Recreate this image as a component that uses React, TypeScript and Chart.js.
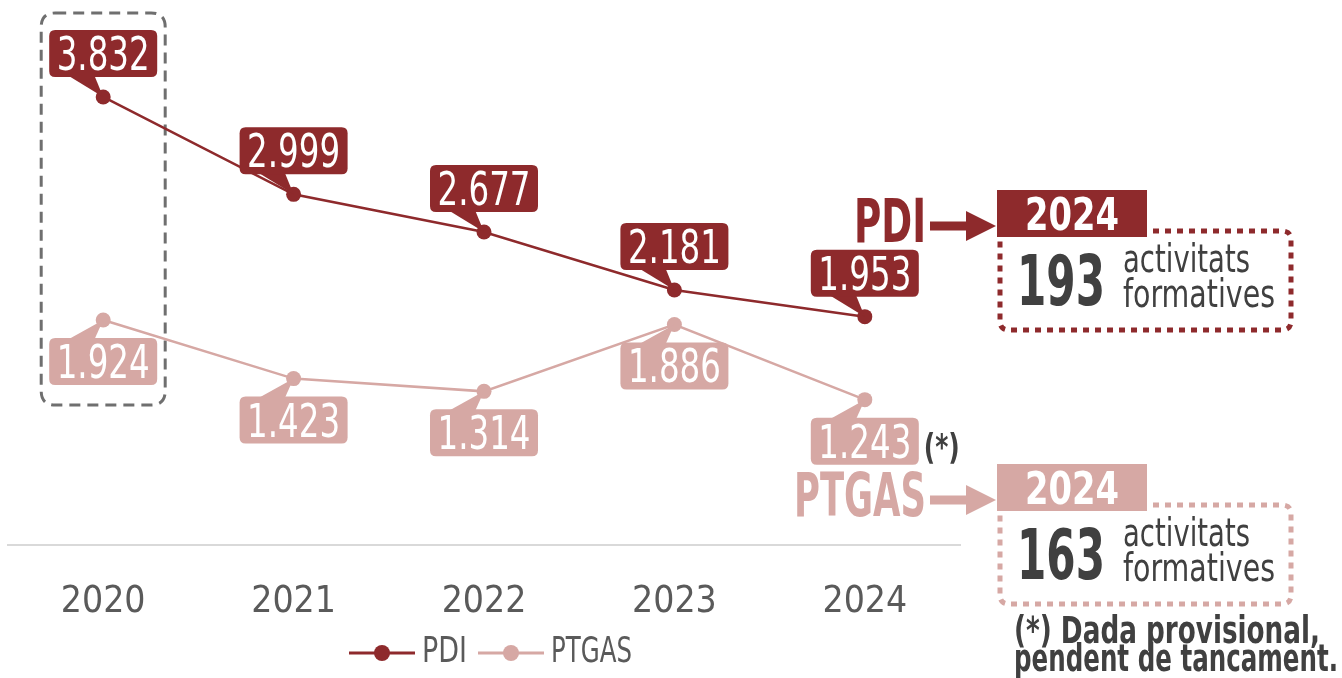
import React, { useEffect, useRef } from "react";
import { Chart, registerables } from "chart.js";

Chart.register(...registerables);

const years = ["2020", "2021", "2022", "2023", "2024"];
const pdiValues = [3832, 2999, 2677, 2181, 1953];
const ptgasValues = [1924, 1423, 1314, 1886, 1243];
const seriesNames = ["PDI", "PTGAS"];
const summaryYear = "2024";
const pdiActivities = 193;
const ptgasActivities = 163;
const activityLines = ["activitats", "formatives"];
const footnoteLines = ["(*) Dada provisional,", "pendent de tancament."];
const provisionalMark = "(*)";

const PDI_COLOR = "#8E2A2C";
const PTGAS_COLOR = "#D6A8A4";
const TEXT_GRAY = "#5A5A5A";
const DARK_TEXT = "#404040";
const FONT = '"DejaVu Sans Condensed", "Liberation Sans Narrow", sans-serif';

const fmt = (n: number) => n.toString().replace(/\B(?=(\d{3})+(?!\d))/g, ".");

function roundRect(ctx: CanvasRenderingContext2D, x: number, y: number, w: number, h: number, r: number) {
  ctx.beginPath();
  ctx.moveTo(x + r, y);
  ctx.lineTo(x + w - r, y);
  ctx.quadraticCurveTo(x + w, y, x + w, y + r);
  ctx.lineTo(x + w, y + h - r);
  ctx.quadraticCurveTo(x + w, y + h, x + w - r, y + h);
  ctx.lineTo(x + r, y + h);
  ctx.quadraticCurveTo(x, y + h, x, y + h - r);
  ctx.lineTo(x, y + r);
  ctx.quadraticCurveTo(x, y, x + r, y);
  ctx.closePath();
}

function drawCallout(ctx: CanvasRenderingContext2D, px: number, py: number, text: string, color: string, above: boolean) {
  ctx.save();
  ctx.font = `47px ${FONT}`;
  const tw = Math.min(ctx.measureText(text).width, 93);
  const w = tw + 15;
  const h = 47;
  const x = px - w / 2;
  const y = above ? py - 20 - h : py + 18;
  ctx.fillStyle = color;
  const by = above ? y + h - 2 : y + 2;
  ctx.beginPath();
  ctx.moveTo(px - 36, by);
  ctx.lineTo(px - 9, by);
  ctx.lineTo(px, py);
  ctx.closePath();
  ctx.fill();
  roundRect(ctx, x, y, w, h, 6);
  ctx.fill();
  ctx.fillStyle = "#ffffff";
  ctx.textAlign = "center";
  ctx.textBaseline = "alphabetic";
  ctx.fillText(text, px, y + h - 7, 93);
  ctx.restore();
}

function drawSummary(ctx: CanvasRenderingContext2D, label: string, value: number, color: string, top: number, labelMaxW: number) {
  ctx.save();
  ctx.strokeStyle = color;
  ctx.lineWidth = 5;
  ctx.setLineDash([6, 6]);
  roundRect(ctx, 1000, top + 41, 291, 99, 9);
  ctx.stroke();
  ctx.setLineDash([]);
  ctx.fillStyle = color;
  ctx.fillRect(997, top, 150, 47);
  ctx.fillStyle = "#ffffff";
  ctx.font = `bold 44px ${FONT}`;
  ctx.textAlign = "center";
  ctx.textBaseline = "alphabetic";
  ctx.fillText(summaryYear, 1072, top + 40, 94);
  ctx.fillStyle = color;
  ctx.font = `bold 60px ${FONT}`;
  ctx.textAlign = "right";
  ctx.fillText(label, 926, top + 52, labelMaxW);
  const ay = top + 36;
  ctx.fillRect(930, ay - 4.5, 38, 9);
  ctx.beginPath();
  ctx.moveTo(966, ay - 15);
  ctx.lineTo(996, ay);
  ctx.lineTo(966, ay + 15);
  ctx.closePath();
  ctx.fill();
  ctx.fillStyle = DARK_TEXT;
  ctx.textAlign = "left";
  ctx.font = `bold 70px ${FONT}`;
  ctx.fillText(String(value), 1017, top + 115, 88);
  ctx.font = `39px ${FONT}`;
  ctx.fillText(activityLines[0], 1123, top + 82, 127);
  ctx.fillText(activityLines[1], 1123, top + 117, 152);
  ctx.restore();
}

const decorPlugin = {
  id: "decor",
  beforeDatasetsDraw(chart: any) {
    const ctx = chart.ctx as CanvasRenderingContext2D;
    const xs = chart.scales.x;
    const cx = xs.getPixelForValue(0);
    ctx.save();
    ctx.strokeStyle = "#6F6F6F";
    ctx.lineWidth = 3;
    ctx.setLineDash([11, 7]);
    roundRect(ctx, cx - 62, 13, 124, 392, 14);
    ctx.stroke();
    ctx.restore();
  },
  afterDatasetsDraw(chart: any) {
    const ctx = chart.ctx as CanvasRenderingContext2D;
    const m0 = chart.getDatasetMeta(0);
    const m1 = chart.getDatasetMeta(1);
    m0.data.forEach((pt: any, i: number) => drawCallout(ctx, pt.x, pt.y, fmt(pdiValues[i]), PDI_COLOR, true));
    m1.data.forEach((pt: any, i: number) => drawCallout(ctx, pt.x, pt.y, fmt(ptgasValues[i]), PTGAS_COLOR, false));
    const last = m1.data[m1.data.length - 1];
    ctx.save();
    ctx.fillStyle = DARK_TEXT;
    ctx.font = `bold 36px ${FONT}`;
    ctx.textAlign = "left";
    ctx.textBaseline = "alphabetic";
    ctx.fillText(provisionalMark, last.x + 59, last.y + 59, 36);
    ctx.restore();
  },
  afterDraw(chart: any) {
    const ctx = chart.ctx as CanvasRenderingContext2D;
    ctx.save();
    const ly = 653;
    const items = [
      { name: seriesNames[0], color: PDI_COLOR, x0: 349, x1: 415, tw: 45 },
      { name: seriesNames[1], color: PTGAS_COLOR, x0: 478, x1: 544, tw: 81 },
    ];
    ctx.font = `35px ${FONT}`;
    ctx.textBaseline = "alphabetic";
    ctx.textAlign = "left";
    items.forEach((it) => {
      ctx.strokeStyle = it.color;
      ctx.lineWidth = 3;
      ctx.beginPath();
      ctx.moveTo(it.x0, ly);
      ctx.lineTo(it.x1, ly);
      ctx.stroke();
      ctx.fillStyle = it.color;
      ctx.beginPath();
      ctx.arc((it.x0 + it.x1) / 2, ly, 8, 0, Math.PI * 2);
      ctx.fill();
      ctx.fillStyle = TEXT_GRAY;
      ctx.fillText(it.name, it.x1 + 7, 662, it.tw);
    });
    ctx.restore();
    drawSummary(ctx, seriesNames[0], pdiActivities, PDI_COLOR, 190, 72);
    drawSummary(ctx, seriesNames[1], ptgasActivities, PTGAS_COLOR, 464, 132);
    ctx.save();
    ctx.fillStyle = DARK_TEXT;
    ctx.font = `bold 37px ${FONT}`;
    ctx.textAlign = "left";
    ctx.fillText(footnoteLines[0], 1014, 643, 306);
    ctx.fillText(footnoteLines[1], 1014, 671, 324);
    ctx.restore();
  },
};

export default function App() {
  const ref = useRef<HTMLCanvasElement | null>(null);
  useEffect(() => {
    if (!ref.current) return;
    const chart = new Chart(ref.current, {
      type: "line",
      data: {
        labels: years,
        datasets: [
          {
            label: seriesNames[0],
            data: pdiValues,
            borderColor: PDI_COLOR,
            backgroundColor: PDI_COLOR,
            pointBackgroundColor: PDI_COLOR,
            pointBorderWidth: 0,
            pointRadius: 7.5,
            borderWidth: 2.5,
            tension: 0,
          },
          {
            label: seriesNames[1],
            data: ptgasValues,
            borderColor: PTGAS_COLOR,
            backgroundColor: PTGAS_COLOR,
            pointBackgroundColor: PTGAS_COLOR,
            pointBorderWidth: 0,
            pointRadius: 7.5,
            borderWidth: 2.5,
            tension: 0,
          },
        ],
      },
      options: {
        responsive: false,
        animation: false,
        layout: { padding: { left: 8, right: 382, top: 0, bottom: 0 } },
        plugins: { legend: { display: false }, tooltip: { enabled: false } },
        scales: {
          x: {
            offset: true,
            grid: { display: false, drawTicks: false },
            border: { display: true, color: "#D9D9D9", width: 2 },
            ticks: { color: TEXT_GRAY, font: { family: FONT, size: 37 }, padding: 35 },
            afterFit: (s: any) => {
              s.height = 133;
            },
          },
          y: { display: false, min: 0, max: 4597 },
        },
      },
      plugins: [decorPlugin],
    });
    return () => chart.destroy();
  }, []);
  return (
    <div style={{ position: "absolute", left: 0, top: 0, width: 1342, height: 678, background: "#fff" }}>
      <canvas ref={ref} width={1342} height={678} style={{ display: "block" }} />
    </div>
  );
}
